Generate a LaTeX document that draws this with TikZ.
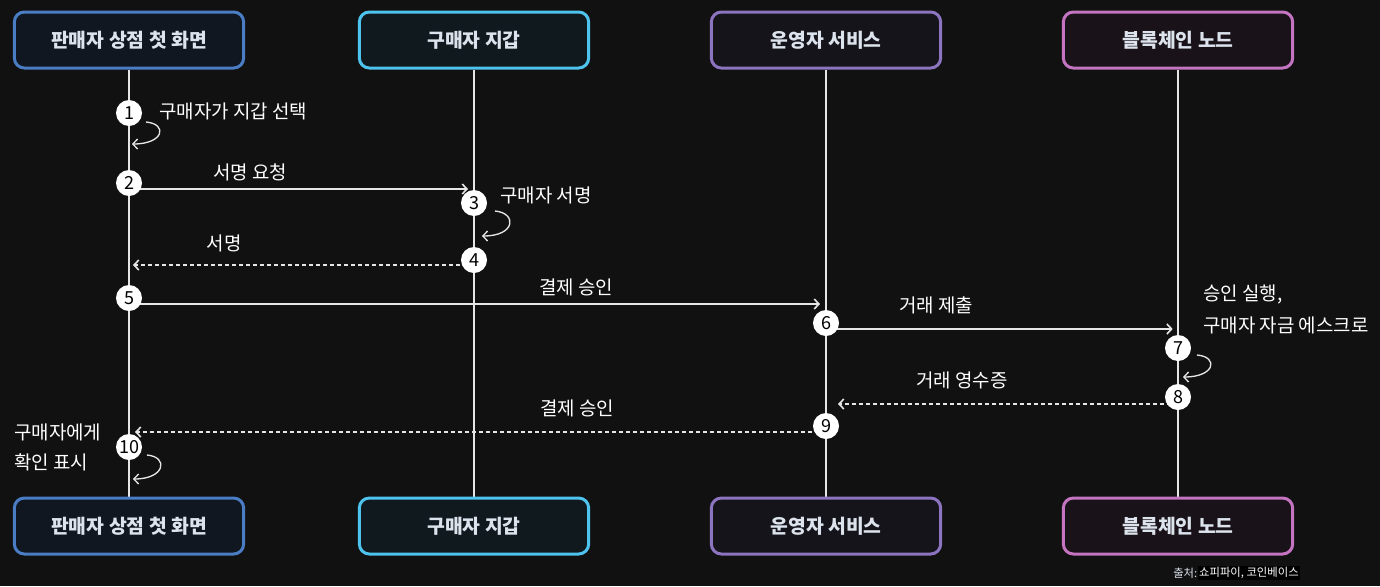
\documentclass[tikz,border=0pt]{standalone}
\usepackage{fontspec}
\setmainfont{Noto Sans CJK KR}
\usepackage{xcolor}
\usepackage{tikz}
\usetikzlibrary{arrows.meta}

\definecolor{bgdark}{HTML}{111111}
\definecolor{linegray}{HTML}{E6E6E6}
\definecolor{titletext}{HTML}{DCE3EC}
\definecolor{shopblue}{HTML}{4A7DC4}
\definecolor{walletcyan}{HTML}{4EC3EE}
\definecolor{opspurple}{HTML}{8D74C1}
\definecolor{chainpink}{HTML}{C474C0}

\pgfdeclarelayer{back}
\pgfdeclarelayer{lines}
\pgfsetlayers{back,lines,main}

\tikzset{
	actor/.style={draw, rounded corners=7.5pt, line width=2.25pt, minimum width=172pt, minimum height=42pt, inner sep=0pt, text=titletext, font=\fontsize{14.5}{16}\selectfont\bfseries},
	num/.style={circle, fill=white, text=black, minimum size=19.5pt, inner sep=0pt, font=\fontsize{13.5}{13.5}\selectfont},
	lab/.style={text=white, inner sep=0pt, font=\fontsize{14.2}{16}\selectfont},
	life/.style={draw=linegray, line width=1.5pt},
	msg/.style={draw=linegray, line width=1.2pt, -{Straight Barb[length=3.5pt,width=7.5pt]}},
	reply/.style={msg, dash pattern=on 3pt off 2.25pt}
}

\begin{document}
\begin{tikzpicture}[x=0.75pt, y=-0.75pt]
	\begin{pgfonlayer}{back}
		\fill[bgdark] (0,0) rectangle (1380,586);
	\end{pgfonlayer}

	% participants, top and bottom
	\node[actor, fill={rgb,255:red,16;green,23;blue,32}, draw=shopblue] (t1) at (129,40) {판매자 상점 첫 화면};
	\node[actor, fill={rgb,255:red,15;green,25;blue,30}, draw=walletcyan] (t2) at (474,40) {구매자 지갑};
	\node[actor, fill={rgb,255:red,21;green,20;blue,27}, draw=opspurple] (t3) at (826,40) {운영자 서비스};
	\node[actor, fill={rgb,255:red,26;green,18;blue,25}, draw=chainpink] (t4) at (1178,40) {블록체인 노드};
	\node[actor, fill={rgb,255:red,16;green,23;blue,32}, draw=shopblue] (b1) at (129,526) {판매자 상점 첫 화면};
	\node[actor, fill={rgb,255:red,15;green,25;blue,30}, draw=walletcyan] (b2) at (474,526) {구매자 지갑};
	\node[actor, fill={rgb,255:red,21;green,20;blue,27}, draw=opspurple] (b3) at (826,526) {운영자 서비스};
	\node[actor, fill={rgb,255:red,26;green,18;blue,25}, draw=chainpink] (b4) at (1178,526) {블록체인 노드};

	% steps
	\node[num] (s1) at (129,113) {1};
	\node[num] (s2) at (129,183) {2};
	\node[num] (s3) at (474,203) {3};
	\node[num] (s4) at (474,260) {4};
	\node[num] (s5) at (129,298) {5};
	\node[num] (s6) at (826,323) {6};
	\node[num] (s7) at (1178,348) {7};
	\node[num] (s8) at (1178,397) {8};
	\node[num] (s9) at (826,426) {9};
	\node[num] (s10) at (129,447) {10};

	\begin{pgfonlayer}{lines}
		\foreach \i in {1,...,4}
			\draw[life] (t\i.south) -- (b\i.north);
		\draw[msg, shorten >=4.5pt] ([yshift=-4.5pt]s2.center) -- ([yshift=-4.5pt]s2.center -| t2);
		\draw[reply, shorten >=3pt] ([yshift=-3.75pt]s4.center) -- ([yshift=-3.75pt]s4.center -| t1);
		\draw[msg, shorten >=4.5pt] ([yshift=-4.5pt]s5.center) -- ([yshift=-4.5pt]s5.center -| t3);
		\draw[msg, shorten >=4pt] ([yshift=-4.5pt]s6.center) -- ([yshift=-4.5pt]s6.center -| t4);
		\draw[reply, shorten >=9pt] ([yshift=-5.25pt]s8.center) -- ([yshift=-5.25pt]s8.center -| t3);
		\draw[reply, shorten >=4.5pt] ([yshift=-4.5pt]s9.center) -- ([yshift=-4.5pt]s9.center -| t1);
	\end{pgfonlayer}

	% self calls
	\draw[msg, line width=1pt] (s1) ++(17,9) .. controls +(22,2) and +(32,0) .. ++(-14,22);
	\draw[msg, line width=1pt] (s3) ++(21,8) .. controls +(22,2) and +(34,0) .. ++(-13,25);
	\draw[msg, line width=1pt] (s7) ++(19,7) .. controls +(22,2) and +(32,0) .. ++(-14,22);
	\draw[msg, line width=1pt] (s10) ++(18,8) .. controls +(22,2) and +(32,0) .. ++(-14,24);

	% labels
	\node[lab, anchor=west] (l1) at (159,111) {구매자가 지갑 선택};
	\node[lab] (l2) at (250,172) {서명 요청};
	\node[lab, anchor=west] (l3) at (500,195) {구매자 서명};
	\node[lab] (l4) at (224,243) {서명};
	\node[lab] (l5) at (576,287) {결제 승인};
	\node[lab] (l6) at (936,305) {거래 제출};
	\node[lab, anchor=west, align=left, font=\fontsize{14.2}{24}\selectfont] (l7) at (1203,309) {승인 실행,\\구매자 자금 에스크로};
	\node[lab] (l8) at (962,380) {거래 영수증};
	\node[lab] (l9) at (577,408) {결제 승인};
	\node[lab, anchor=west, align=left, font=\fontsize{14.2}{23}\selectfont] (l10) at (14,447.5) {구매자에게\\확인 표시};

	% source
	\node[lab, anchor=west, text=titletext, font=\fontsize{8.5}{10}\selectfont] (src) at (1173,573) {출처:};
	\node[lab, anchor=west, fill=black, inner sep=1pt, font=\fontsize{8.5}{10}\selectfont] (srcname) at (src.east) {쇼피파이, 코인베이스};
\end{tikzpicture}
\end{document}
